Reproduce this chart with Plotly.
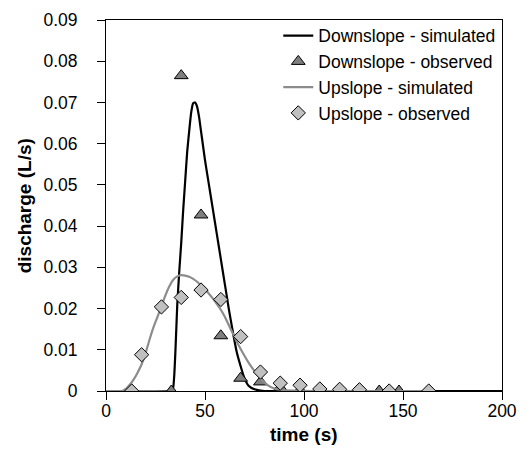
import plotly.graph_objects as go

# Downslope - simulated (black line)
down_sim_t = [0, 33, 33.5, 34, 34.5, 35, 35.5, 36, 37, 38, 39, 40, 41, 42, 43, 44, 45, 46, 47, 48, 49, 50,
              52, 54, 56, 58, 60, 62, 64, 66, 68, 70, 72, 75, 78, 80, 200]
down_sim_q = [0, 0, 0.0003, 0.001, 0.004, 0.009, 0.015, 0.021, 0.029, 0.036, 0.044, 0.051, 0.058, 0.063,
              0.0675, 0.0698, 0.0700, 0.069, 0.0665, 0.063, 0.0595, 0.056,
              0.050, 0.044, 0.038, 0.032, 0.026, 0.020, 0.0145, 0.0095, 0.006, 0.003, 0.0013, 0.0004,
              0.0001, 0, 0]

# Downslope - observed (triangles)
down_obs_t = [33, 38, 48, 58, 68, 78, 88, 98, 108, 118, 128, 138, 148]
down_obs_q = [0, 0.0765, 0.0427, 0.0134, 0.0031, 0.0022, 0.0008, 0.0002, 0, 0, 0, 0, 0]

# Upslope - simulated (grey line)
up_sim_t = [0, 8, 10, 12, 14, 16, 18, 20, 22, 24, 26, 28, 30, 32, 34, 36, 38, 40, 42, 44, 46, 48, 50,
            52, 54, 56, 58, 60, 62, 64, 66, 68, 70, 72, 74, 76, 78, 80, 82, 84, 88, 95, 105, 163]
up_sim_q = [0, 0, 0.0005, 0.0015, 0.0028, 0.0045, 0.0065, 0.0092, 0.0125, 0.0155, 0.018, 0.0205, 0.0232,
            0.0254, 0.027, 0.0278, 0.0281, 0.0280, 0.0277, 0.0272, 0.0265, 0.0256, 0.0247,
            0.0236, 0.0224, 0.0211, 0.0197, 0.018, 0.016, 0.014, 0.012, 0.0102, 0.0085, 0.0069, 0.0055,
            0.0042, 0.0031, 0.0021, 0.0013, 0.0008, 0.0003, 0.0001, 0, 0]

# Upslope - observed (diamonds)
up_obs_t = [13, 18, 28, 38, 48, 58, 68, 78, 88, 98, 108, 118, 128, 143, 163]
up_obs_q = [0, 0.0088, 0.0204, 0.0227, 0.0245, 0.0222, 0.0132, 0.0046, 0.0019, 0.0014, 0.0005, 0.0004,
            0.0003, 0, 0]

x_ticks = [0, 50, 100, 150, 200]
y_ticks = [0, 0.01, 0.02, 0.03, 0.04, 0.05, 0.06, 0.07, 0.08, 0.09]
y_tick_labels = ["0", "0.01", "0.02", "0.03", "0.04", "0.05", "0.06", "0.07", "0.08", "0.09"]

FONT = "Liberation Sans, Arial, sans-serif"

fig = go.Figure()
fig.add_trace(go.Scatter(x=down_sim_t, y=down_sim_q, mode="lines", name="Downslope - simulated",
                         line=dict(color="black", width=2.2, shape="spline", smoothing=0.4)))
fig.add_trace(go.Scatter(x=down_obs_t, y=down_obs_q, mode="markers", name="Downslope - observed",
                         marker=dict(symbol="triangle-up", size=12, color="#7f7f7f",
                                     line=dict(color="black", width=1))))
fig.add_trace(go.Scatter(x=up_sim_t, y=up_sim_q, mode="lines", name="Upslope - simulated",
                         line=dict(color="#8c8c8c", width=2.2, shape="spline", smoothing=0.4)))
fig.add_trace(go.Scatter(x=up_obs_t, y=up_obs_q, mode="markers", name="Upslope - observed",
                         marker=dict(symbol="diamond", size=11, color="#c0c0c0",
                                     line=dict(color="black", width=1))))

fig.update_layout(
    width=532, height=452,
    margin=dict(l=106, r=30, t=20, b=61),
    paper_bgcolor="white", plot_bgcolor="white",
    font=dict(family=FONT, color="black", size=17),
    showlegend=True,
    legend=dict(x=0.435, y=1.006, xanchor="left", yanchor="top", bgcolor="rgba(0,0,0,0)",
                font=dict(size=17.5, family=FONT), tracegroupgap=0),
    xaxis=dict(range=[0, 200], tickvals=x_ticks, ticktext=[str(v) for v in x_ticks],
               showgrid=False, zeroline=False, showline=True, linecolor="black", linewidth=1,
               mirror=True, ticks="outside", ticklen=8, tickcolor="black", automargin=False,
               ticklabelstandoff=-4, tickfont=dict(size=17.5, family=FONT)),
    yaxis=dict(range=[0, 0.09], tickvals=y_ticks, ticktext=y_tick_labels,
               showgrid=False, zeroline=False, showline=True, linecolor="black", linewidth=1,
               mirror=True, ticks="outside", ticklen=8, tickcolor="black", automargin=False,
               ticklabelstandoff=16, tickfont=dict(size=17.5, family=FONT)),
    annotations=[
        dict(text="<b>time (s)</b>", xref="paper", yref="paper", x=0.5, y=-0.118,
             xanchor="center", yanchor="middle", showarrow=False, font=dict(size=19, family=FONT)),
        dict(text="<b>discharge (L/s)</b>", xref="paper", yref="paper", x=-0.205, y=0.5,
             xanchor="center", yanchor="middle", showarrow=False, textangle=-90,
             font=dict(size=19, family=FONT)),
    ],
)

fig.write_html("out.html")
